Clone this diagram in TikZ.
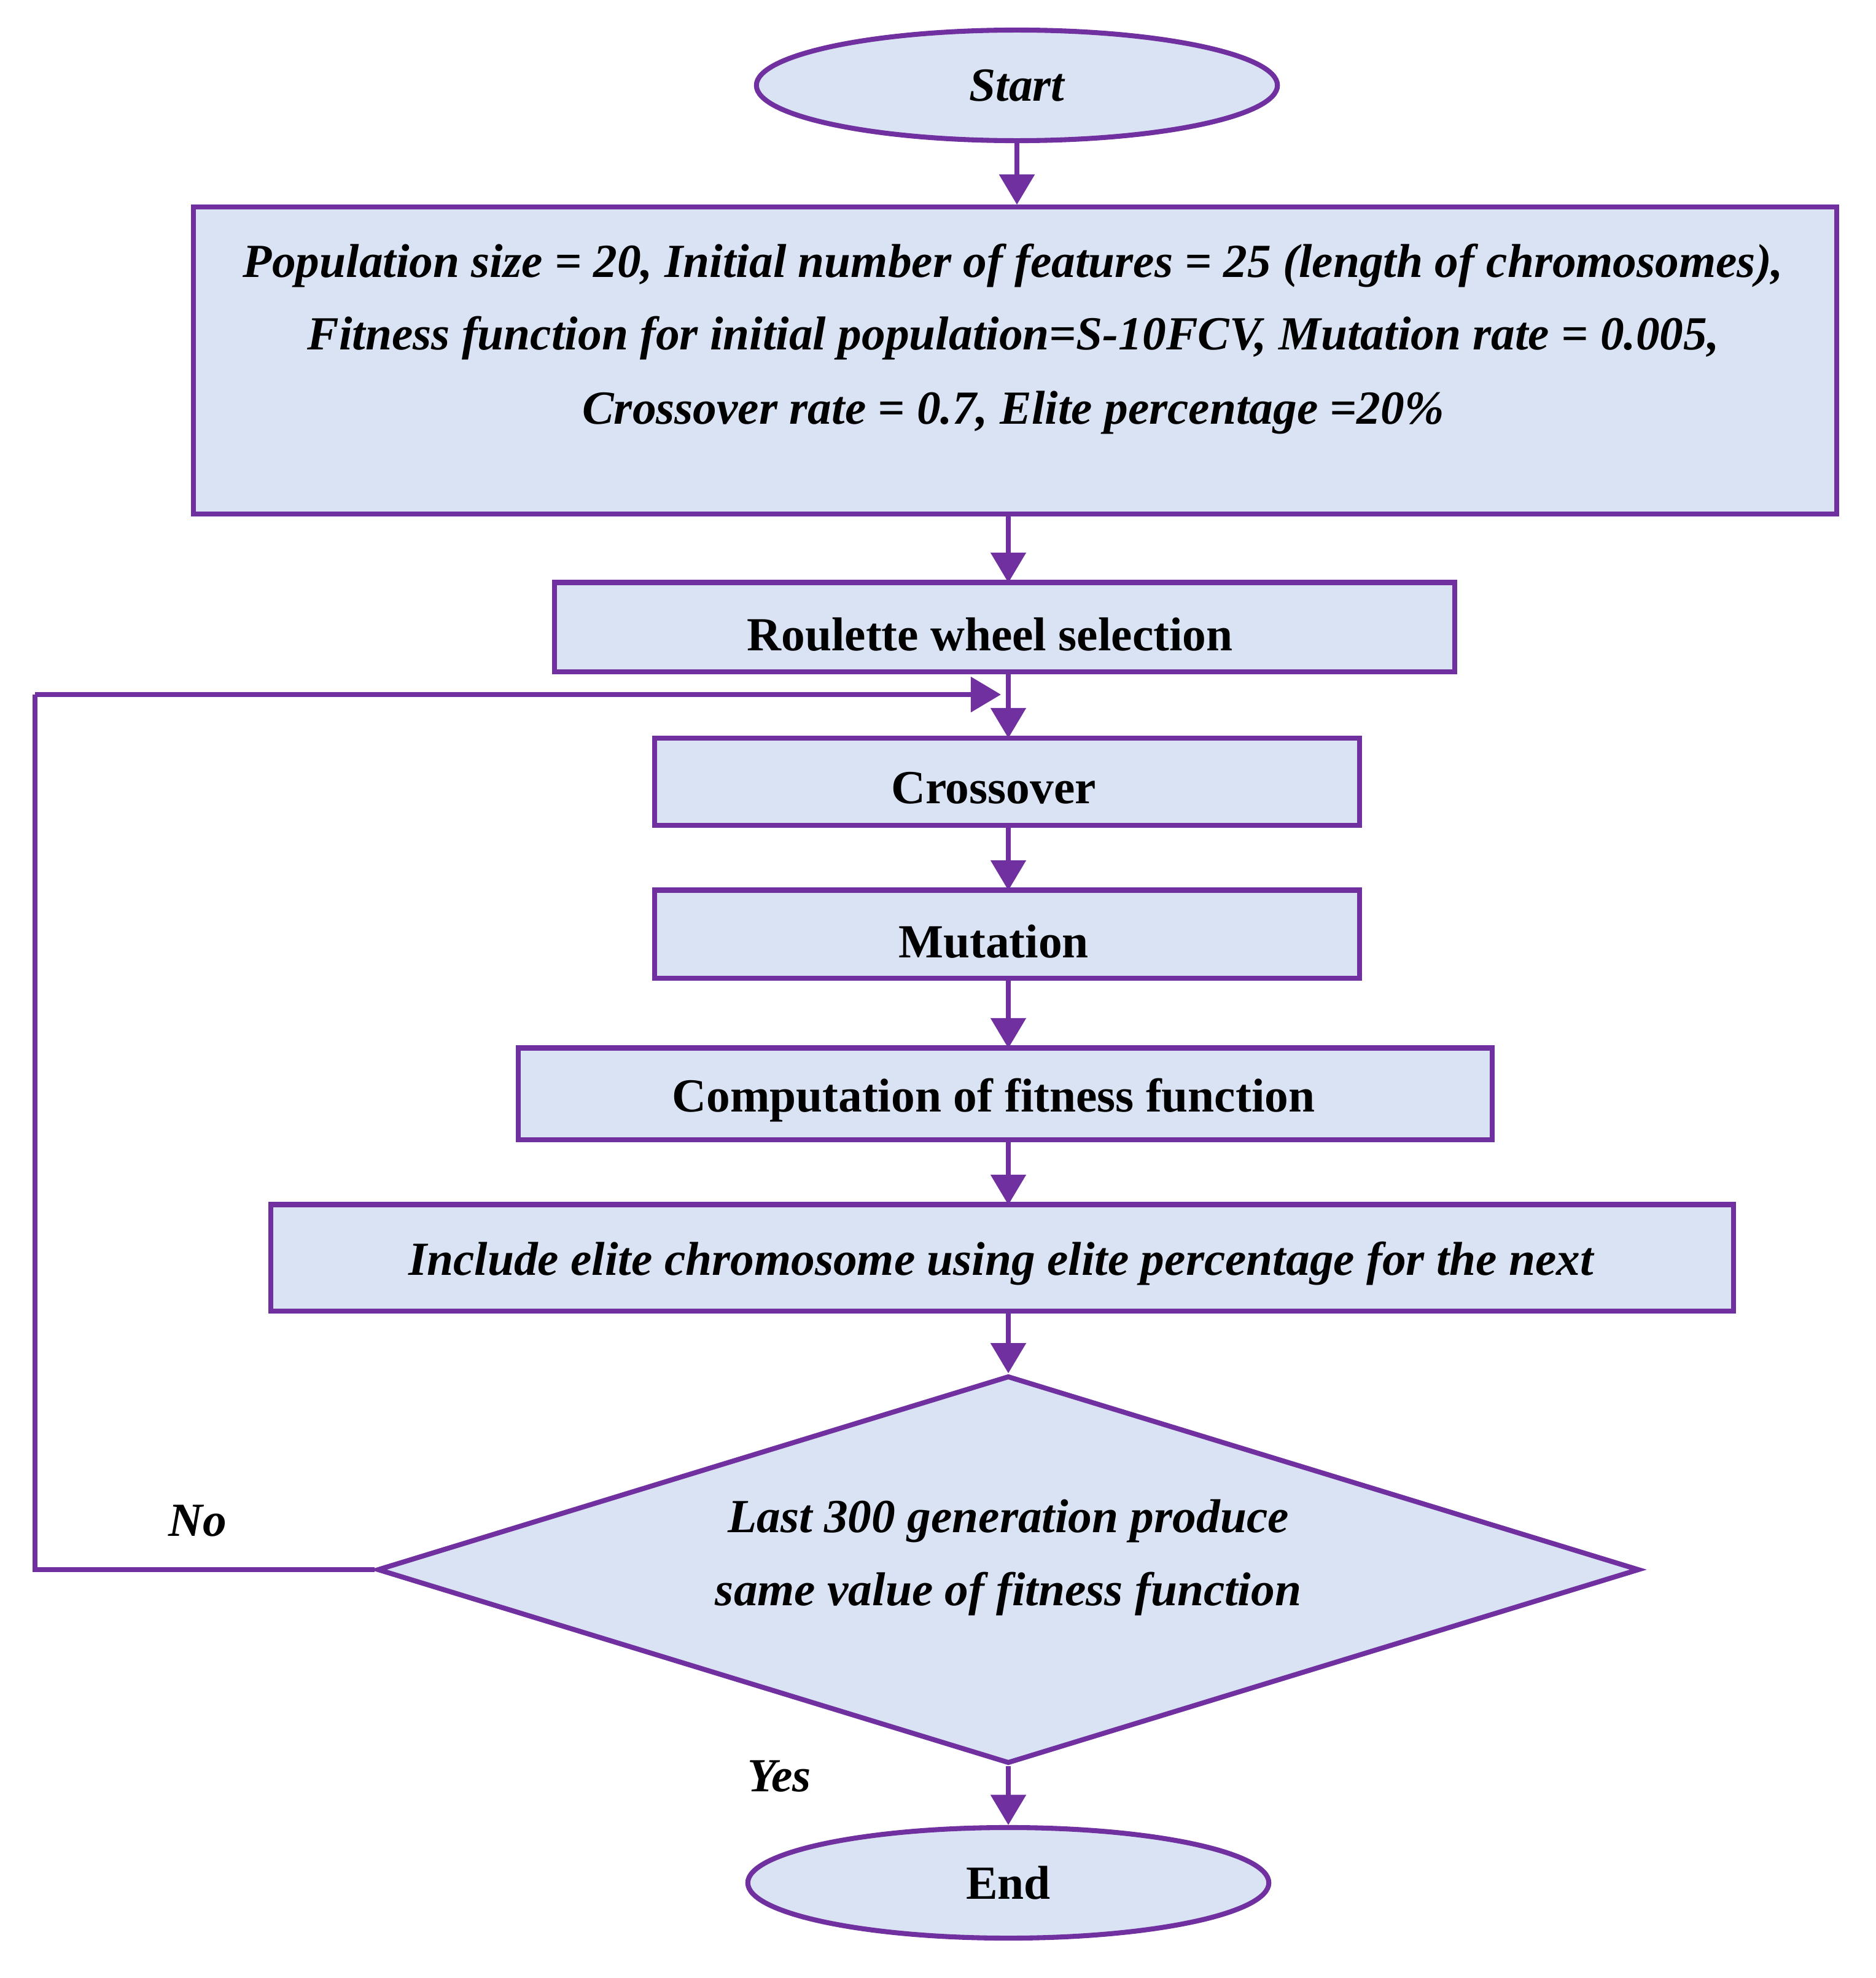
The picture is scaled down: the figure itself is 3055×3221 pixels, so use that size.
\documentclass[tikz,border=0pt]{standalone}
\usepackage{fontspec}
\setmainfont{Liberation Serif}
\usetikzlibrary{shapes.geometric,arrows.meta}
\definecolor{pur}{HTML}{7030A0}
\definecolor{fil}{HTML}{DAE3F3}
\begin{document}
\begin{tikzpicture}[x=0.01cm,y=-0.01cm,
  every node/.style={font=\fontsize{22}{26}\selectfont\bfseries},
  box/.style={draw=pur,fill=fil,line width=2.3pt,rectangle,inner sep=0pt},
  ell/.style={draw=pur,fill=fil,line width=2.3pt,ellipse,inner sep=0pt,minimum width=8.48cm,minimum height=1.8cm},
  arr/.style={draw=pur,line width=2.3pt,-{Triangle[length=14pt,width=16pt]}},
  lin/.style={draw=pur,line width=2.3pt}]
\useasboundingbox (0,0) rectangle (3055,3221);
\node[ell] (start) at (1656,139) {\itshape Start};
\node[box,minimum width=26.74cm,minimum height=4.99cm] (pop) at (1653,587) {};
\node (t1) at (1650,432) {\itshape Population size = 20, Initial number of features = 25 (length of chromosomes),};
\node (t2) at (1650,550) {\itshape Fitness function for initial population=S-10FCV, Mutation rate = 0.005,};
\node (t3) at (1650,672) {\itshape Crossover rate = 0.7, Elite percentage =20\%};
\node[box,minimum width=14.65cm,minimum height=1.45cm] (rw) at (1636,1021) {};
\node at (1612,1033) {Roulette wheel selection};
\node[box,minimum width=11.47cm,minimum height=1.42cm] (cr) at (1640,1273) {};
\node at (1618,1283) {Crossover};
\node[box,minimum width=11.47cm,minimum height=1.43cm] (mu) at (1640,1521) {};
\node at (1618,1533) {Mutation};
\node[box,minimum width=15.85cm,minimum height=1.49cm] (co) at (1637,1781) {};
\node at (1618,1791) {Computation of fitness function};
\node[box,minimum width=23.81cm,minimum height=1.73cm] (in) at (1632,2048) {};
\node at (1630,2057) {\itshape Include elite chromosome using elite percentage for the next};
\node[draw=pur,fill=fil,line width=2.3pt,diamond,inner sep=0pt,minimum width=20.54cm,minimum height=6.31cm,aspect=3.25] (di) at (1642,2556) {};
\node at (1642,2477) {\itshape Last 300 generation produce};
\node at (1642,2595) {\itshape same value of fitness function};
\node[ell] (end) at (1642,3066) {End};
\node at (322,2477) {\itshape No};
\node at (1269,2893) {\itshape Yes};
\coordinate (j) at (1642,1131);
\coordinate (l1) at (57,2556);
\coordinate (l2) at (57,1131);
\draw[arr] (start.south) -- (start.south|-pop.north);
\draw[arr] (1642,837) -- (1642,949);
\draw[lin] (1642,1094) -- (j);
\draw[arr] (j) -- (1642,1202);
\draw[arr] (1642,1344) -- (1642,1450);
\draw[arr] (1642,1593) -- (1642,1707);
\draw[arr] (1642,1856) -- (1642,1962);
\draw[arr] (1642,2135) -- (di.north);
\draw[arr] (di.south) -- (end.north);
\draw[lin] (di.west) -- (l1) -- (l2);
\draw[arr] (l2) -- (1630,1131);
\end{tikzpicture}
\end{document}
